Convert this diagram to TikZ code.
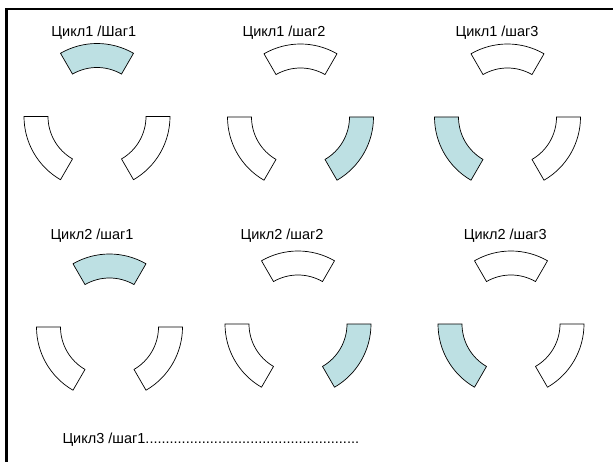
\documentclass[tikz,border=0pt]{standalone}
\usepackage{fontspec}
\setmainfont{Liberation Sans}
\definecolor{segblue}{RGB}{189,224,227}

\begin{document}
\begin{tikzpicture}[x=1pt, y=-1pt,
        seg/.style={draw=black, line width=0.7pt, fill=white},
        lit/.style={seg, fill=segblue},
        lbl/.style={font=\fontsize{14.5}{16}\selectfont, inner sep=0pt}]
        \useasboundingbox (0,0) rectangle (613,462);
        \draw[line width=2.3pt] (6.5,462) -- (6.5,9.2) -- (613,9.2);

        % ring centres
        \coordinate (u11) at (97,116.5);
        \coordinate (u12) at (300.5,117);
        \coordinate (u13) at (507.5,117);
        \coordinate (u21) at (109.5,327);
        \coordinate (u22) at (298,324);
        \coordinate (u23) at (511,324);

        \foreach \c/\a/\s in {u11/240/lit, u11/120/seg, u11/0/seg,
                              u12/240/seg, u12/120/seg, u12/0/lit,
                              u13/240/seg, u13/120/lit, u13/0/seg,
                              u21/240/lit, u21/120/seg, u21/0/seg,
                              u22/240/seg, u22/120/seg, u22/0/lit,
                              u23/240/seg, u23/120/lit, u23/0/seg}
            \draw[\s] (\c) ++(\a:73) arc[start angle=\a, delta angle=60, radius=73]
                -- ++({\a+240}:24) arc[start angle=\a+60, delta angle=-60, radius=49] -- cycle;

        \node[lbl] (t11) at (93.8,33) {Цикл1 /Шаг1};
        \node[lbl] (t12) at (284,33) {Цикл1 /шаг2};
        \node[lbl] (t13) at (497,33) {Цикл1 /шаг3};
        \node[lbl] (t21) at (92,236) {Цикл2 /шаг1};
        \node[lbl] (t22) at (282,236) {Цикл2 /шаг2};
        \node[lbl] (t23) at (505.3,236) {Цикл2 /шаг3};
        \node[lbl, anchor=west] (t31) at (62.3,440)
            {Цикл3 /шаг1.....................................................};
\end{tikzpicture}
\end{document}
